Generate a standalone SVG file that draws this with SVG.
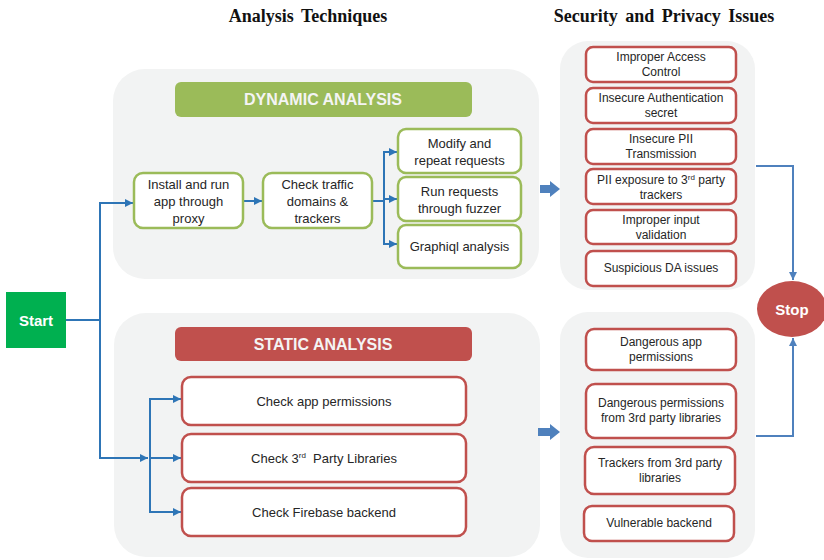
<svg xmlns="http://www.w3.org/2000/svg" width="824" height="560" viewBox="0 0 824 560">
<style>
.title{font-family:"Liberation Serif","Times New Roman",serif;font-weight:bold;font-size:18px;fill:#111;text-anchor:middle;word-spacing:3px}
.panel{fill:#f2f3f3}
.gbox{fill:#fff;stroke:#9bbb59;stroke-width:2.5}
.rbox{fill:#fff;stroke:#c0504d;stroke-width:2.5}
.t{font-family:"Liberation Sans",Arial,sans-serif;font-size:13px;fill:#262626;text-anchor:middle}
.s{font-family:"Liberation Sans",Arial,sans-serif;font-size:12px;fill:#262626;text-anchor:middle}
.hdr{font-family:"Liberation Sans",Arial,sans-serif;font-size:16px;font-weight:bold;fill:#f4f4f4;text-anchor:middle}
.wt{font-family:"Liberation Sans",Arial,sans-serif;font-size:15px;font-weight:bold;fill:#fff;text-anchor:middle}
.c{fill:none;stroke:#2e75b6;stroke-width:2}
.c2{fill:none;stroke:#4f81bd;stroke-width:2}
.blk{fill:#4f81bd}
.sup{font-size:8px}
</style>
<defs>
<marker id="ah" viewBox="0 0 10 10" refX="10" refY="5" markerWidth="4" markerHeight="4" orient="auto" markerUnits="strokeWidth">
<path d="M0 0 L10 5 L0 10 Z" fill="#2e75b6"/>
</marker>
<marker id="ah2" viewBox="0 0 10 10" refX="10" refY="5" markerWidth="4" markerHeight="4" orient="auto" markerUnits="strokeWidth">
<path d="M0 0 L10 5 L0 10 Z" fill="#4f81bd"/>
</marker>
</defs>

<text class="title" x="308" y="22">Analysis Techniques</text>
<text class="title" x="664" y="22">Security and Privacy Issues</text>

<g id="panels">
<rect class="panel" x="113" y="69" width="426" height="210" rx="32"/>
<rect class="panel" x="114" y="313" width="426" height="244" rx="32"/>
<rect class="panel" x="560" y="41" width="195" height="249" rx="28"/>
<rect class="panel" x="560" y="312" width="195" height="246" rx="28"/>
</g>

<g id="connectors">
<path class="c" d="M66 320 H100 V458 H148" marker-end="url(#ah)"/>
<path class="c" d="M100 320 V203 H133" marker-end="url(#ah)"/>
<path class="c" d="M243 201 H262" marker-end="url(#ah)"/>
<path class="c" d="M372 201 H384"/>
<path class="c" d="M384 199 H397" marker-end="url(#ah)"/>
<path class="c" d="M384 244 V152 H397" marker-end="url(#ah)"/>
<path class="c" d="M384 201 V244 H397" marker-end="url(#ah)"/>
<path class="c" d="M150 458 H181" marker-end="url(#ah)"/>
<path class="c" d="M150 458 V399 H181" marker-end="url(#ah)"/>
<path class="c" d="M150 458 V512 H181" marker-end="url(#ah)"/>
<path class="blk" d="M540 185 H550 V181 L560 189 L550 197 V193 H540 Z"/>
<path class="blk" d="M538 428 H550 V424 L560 432 L550 440 V436 H538 Z"/>
<path class="c2" d="M756 166 H793 V280" marker-end="url(#ah2)"/>
<path class="c2" d="M756 436 H793 V338" marker-end="url(#ah2)"/>
</g>

<g id="start">
<rect x="6" y="292" width="60" height="56" fill="#00b050"/>
<text class="wt" x="36" y="326">Start</text>
</g>

<g id="stop">
<ellipse cx="792" cy="309" rx="35" ry="28" fill="#c0504d"/>
<text class="wt" x="792" y="315" font-size="16">Stop</text>
</g>

<g id="dynamic-header">
<rect x="175" y="82" width="297" height="35" rx="6" fill="#9bbb59"/>
<text class="hdr" x="323" y="105">DYNAMIC ANALYSIS</text>
</g>

<g id="install">
<rect class="gbox" x="134" y="173" width="109" height="55" rx="9"/>
<text class="t" x="188.5" y="189">Install and run</text>
<text class="t" x="188.5" y="206">app through</text>
<text class="t" x="188.5" y="223">proxy</text>
</g>

<g id="check-traffic">
<rect class="gbox" x="263" y="173" width="109" height="55" rx="9"/>
<text class="t" x="317.5" y="189">Check traffic</text>
<text class="t" x="317.5" y="206">domains &amp;</text>
<text class="t" x="317.5" y="223">trackers</text>
</g>

<g id="modify">
<rect class="gbox" x="398" y="129" width="123" height="44" rx="8"/>
<text class="t" x="459.5" y="148">Modify and</text>
<text class="t" x="459.5" y="165">repeat requests</text>
</g>

<g id="fuzzer">
<rect class="gbox" x="398" y="177" width="123" height="44" rx="8"/>
<text class="t" x="459.5" y="196">Run requests</text>
<text class="t" x="459.5" y="213">through fuzzer</text>
</g>

<g id="graphiql">
<rect class="gbox" x="398" y="225" width="123" height="43" rx="8"/>
<text class="t" x="459.5" y="251">Graphiql analysis</text>
</g>

<g id="static-header">
<rect x="175" y="327" width="297" height="34" rx="6" fill="#c0504d"/>
<text class="hdr" x="323" y="350">STATIC ANALYSIS</text>
</g>

<g id="check-perm">
<rect class="rbox" x="182" y="377" width="284" height="48" rx="9"/>
<text class="t" x="324" y="406">Check app permissions</text>
</g>

<g id="check-libs">
<rect class="rbox" x="182" y="434" width="284" height="48" rx="9"/>
<text class="t" x="324" y="463">Check 3<tspan class="sup" dy="-5">rd</tspan><tspan dy="5">&#160; Party Libraries</tspan></text>
</g>

<g id="check-firebase">
<rect class="rbox" x="182" y="488" width="284" height="48" rx="9"/>
<text class="t" x="324" y="517">Check Firebase backend</text>
</g>

<g id="issue-access">
<rect class="rbox" x="586" y="47" width="150" height="35" rx="7"/>
<text class="s" x="661" y="61">Improper Access</text>
<text class="s" x="661" y="76">Control</text>
</g>
<g id="issue-auth">
<rect class="rbox" x="586" y="88" width="150" height="35" rx="7"/>
<text class="s" x="661" y="102">Insecure Authentication</text>
<text class="s" x="661" y="117">secret</text>
</g>
<g id="issue-pii">
<rect class="rbox" x="586" y="129" width="150" height="35" rx="7"/>
<text class="s" x="661" y="143">Insecure PII</text>
<text class="s" x="661" y="158">Transmission</text>
</g>
<g id="issue-exposure">
<rect class="rbox" x="586" y="169" width="150" height="35" rx="7"/>
<text class="s" x="661" y="184">PII exposure to 3<tspan class="sup" dy="-4">rd</tspan><tspan dy="4"> party</tspan></text>
<text class="s" x="661" y="199">trackers</text>
</g>
<g id="issue-input">
<rect class="rbox" x="586" y="210" width="150" height="34" rx="7"/>
<text class="s" x="661" y="224">Improper input</text>
<text class="s" x="661" y="239">validation</text>
</g>
<g id="issue-da">
<rect class="rbox" x="586" y="251" width="150" height="35" rx="7"/>
<text class="s" x="661" y="272">Suspicious DA issues</text>
</g>

<g id="issue-dangerous-app">
<rect class="rbox" x="586" y="329" width="150" height="41" rx="8"/>
<text class="s" x="661" y="346">Dangerous app</text>
<text class="s" x="661" y="361">permissions</text>
</g>
<g id="issue-dangerous-libs">
<rect class="rbox" x="586" y="384" width="150" height="54" rx="9"/>
<text class="s" x="661" y="407">Dangerous permissions</text>
<text class="s" x="661" y="422">from 3rd party libraries</text>
</g>
<g id="issue-trackers">
<rect class="rbox" x="585" y="447" width="150" height="47" rx="9"/>
<text class="s" x="660" y="467">Trackers from 3rd party</text>
<text class="s" x="660" y="482">libraries</text>
</g>
<g id="issue-backend">
<rect class="rbox" x="584" y="506" width="150" height="35" rx="8"/>
<text class="s" x="659" y="527">Vulnerable backend</text>
</g>
</svg>
